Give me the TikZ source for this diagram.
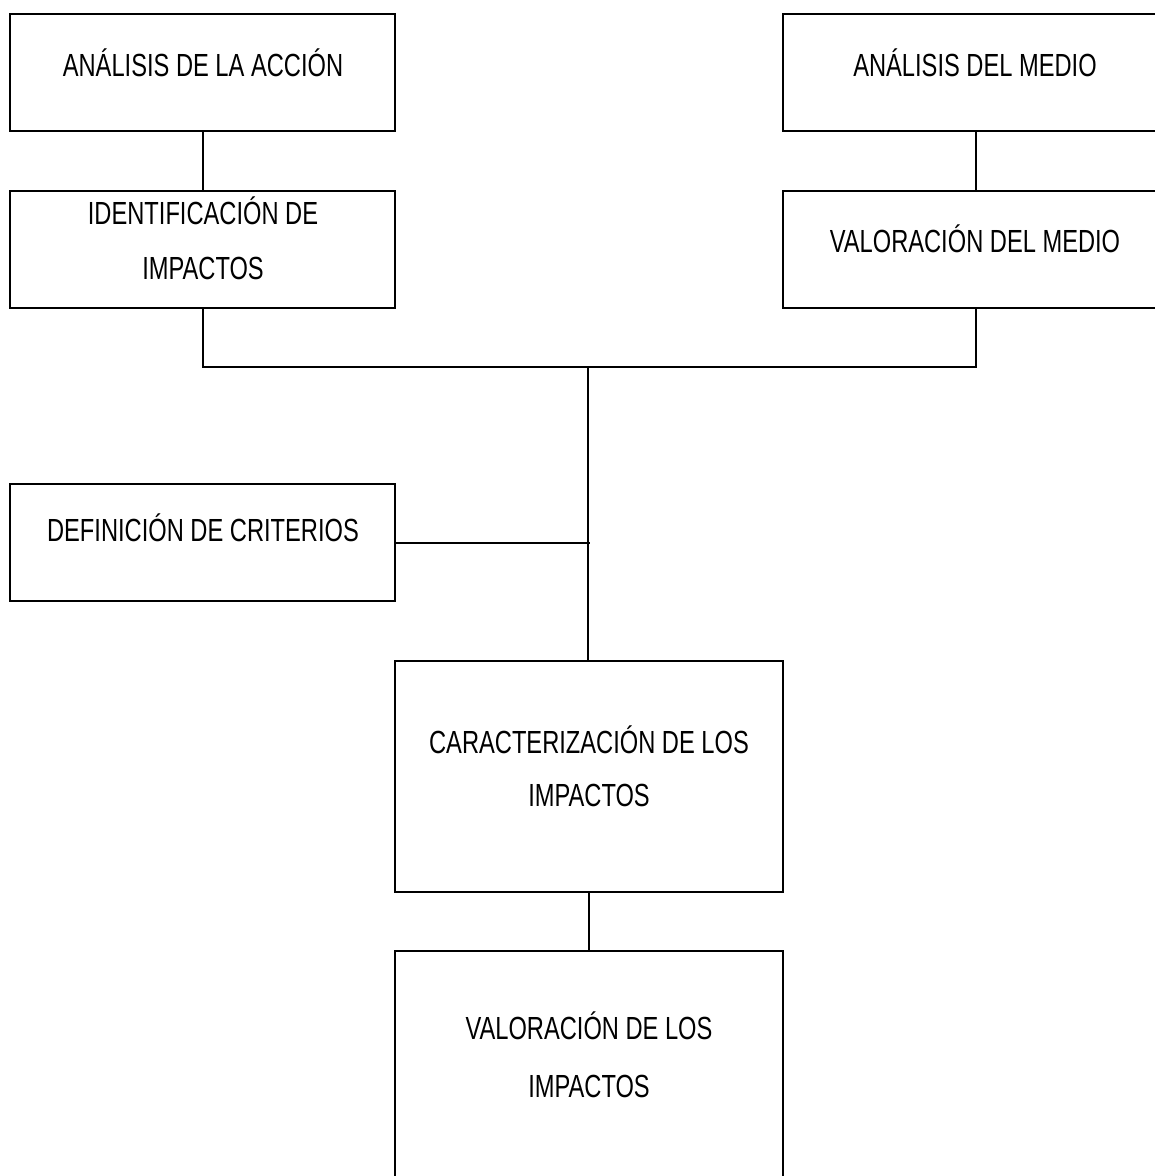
\documentclass[tikz,border=0pt]{standalone}
\usepackage{fontspec}
\setmainfont[FakeStretch=0.74]{Liberation Sans}
\begin{document}
\begin{tikzpicture}[x=1pt,y=-1pt,
  box/.style={draw, line width=2pt, inner sep=0pt},
  txt/.style={anchor=base, inner sep=0pt, font=\fontsize{32pt}{32pt}\selectfont},
  conn/.style={line width=2pt}]
\useasboundingbox (0,0) rectangle (1155,1176);
\fill[white] (0,0) rectangle (1155,1176);
% boxes
\node[box, minimum width=385pt, minimum height=117pt] (A) at (202.5,72.5) {};
\node[box, minimum width=385pt, minimum height=117pt] (B) at (975.5,72.5) {};
\node[box, minimum width=385pt, minimum height=117pt] (C) at (202.5,249.5) {};
\node[box, minimum width=385pt, minimum height=117pt] (D) at (975.5,249.5) {};
\node[box, minimum width=385pt, minimum height=117pt] (F) at (202.5,542.5) {};
\node[box, minimum width=388pt, minimum height=231pt] (E) at (589,776.5) {};
\node[box, minimum width=388pt, minimum height=240pt] (G) at (589,1071) {};
% texts
\node[txt] (tA) at (203,76) {ANÁLISIS DE LA ACCIÓN};
\node[txt] (tB) at (975,76) {ANÁLISIS DEL MEDIO};
\node[txt] (tC1) at (203,224) {IDENTIFICACIÓN DE};
\node[txt] (tC2) at (203,279) {IMPACTOS};
\node[txt] (tD) at (975,252) {VALORACIÓN DEL MEDIO};
\node[txt] (tF) at (203,541) {DEFINICIÓN DE CRITERIOS};
\node[txt] (tE1) at (589,753) {CARACTERIZACIÓN DE LOS};
\node[txt] (tE2) at (589,806) {IMPACTOS};
\node[txt] (tG1) at (589,1039) {VALORACIÓN DE LOS};
\node[txt] (tG2) at (589,1097) {IMPACTOS};
% connectors
\coordinate (J) at (588,367);
\coordinate (M) at (590,543);
\draw[conn] (A.south) -- (C.north);
\draw[conn] (B.south) -- (D.north);
\draw[conn] (C.south) -- (C.south |- J) -- (D.south |- J) -- (D.south);
\draw[conn] (J) -- (J |- E.north);
\draw[conn] (F.east) -- (F.east -| M);
\draw[conn] (E.south) -- (G.north);
\end{tikzpicture}
\end{document}
